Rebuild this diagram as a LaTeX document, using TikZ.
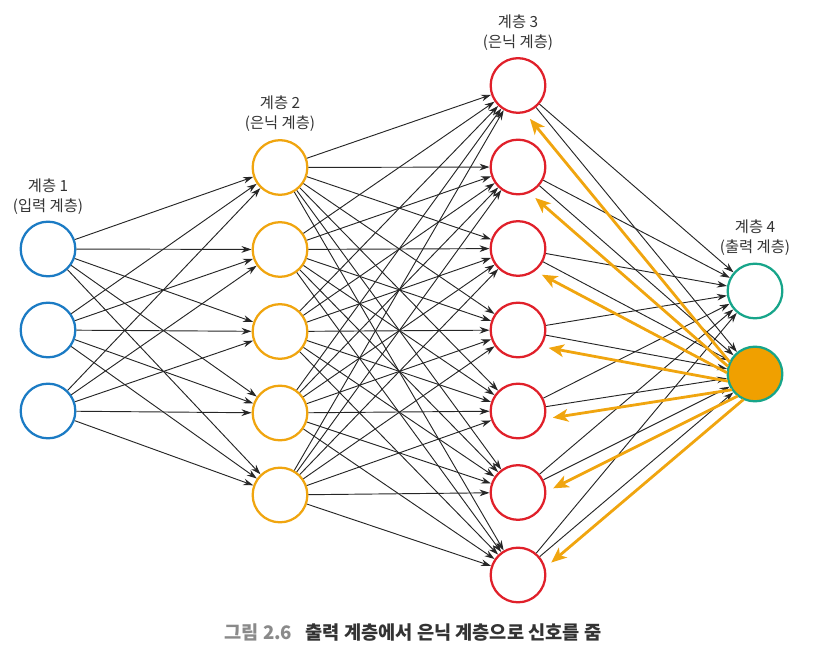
\documentclass[tikz,border=0pt]{standalone}
\usepackage{fontspec}
\setmainfont{Noto Sans CJK KR}
\usetikzlibrary{arrows.meta,calc}
\definecolor{cblue}{HTML}{1B7BC4}
\definecolor{corange}{HTML}{F0A50F}
\definecolor{cred}{HTML}{E0202A}
\definecolor{cteal}{HTML}{17A58A}
\definecolor{cfill}{HTML}{F0A000}
\definecolor{ctext}{HTML}{333333}
\definecolor{cgray}{HTML}{8A8A8A}
\begin{document}
\begin{tikzpicture}[x=0.75pt,y=-0.75pt,
  neuron/.style={circle,draw,line width=1.7pt,minimum size=41pt,inner sep=0pt,fill=white},
  lone/.style={neuron,draw=cblue},
  ltwo/.style={neuron,draw=corange},
  lthree/.style={neuron,draw=cred},
  lfour/.style={neuron,draw=cteal},
  conn/.style={draw=black!85,line width=0.7pt,-{Stealth[length=7.5pt,width=5pt]}},
  back/.style={draw=corange,line width=2.1pt,-{Stealth[length=11.5pt,width=9.5pt,inset=3pt]}},
  lab/.style={align=center,font=\fontsize{11.5}{15}\selectfont,text=ctext}
]
\useasboundingbox (0,0) rectangle (820,655);
% layer 1
\foreach \i/\y in {1/249,2/330,3/411} \node[lone] (a\i) at (48,\y) {};
% layer 2
\foreach \i/\y in {1/167.5,2/249.5,3/331.5,4/413,5/495} \node[ltwo] (b\i) at (280,\y) {};
% layer 3
\foreach \i/\y in {1/85.5,2/167,3/248.5,4/330,5/411,6/492.5,7/575} \node[lthree] (c\i) at (518,\y) {};
% layer 4
\node[lfour] (d1) at (755,291) {};
\node[lfour,fill=cfill] (d2) at (755,374) {};
% labels
\node[lab] (t1) at (48,197) {계층 1\\(입력 계층)};
\node[lab] (t2) at (280,114) {계층 2\\(은닉 계층)};
\node[lab] (t3) at (518,33) {계층 3\\(은닉 계층)};
\node[lab] (t4) at (755,238) {계층 4\\(출력 계층)};
% connections
\foreach \i in {1,2,3} \foreach \j in {1,...,5} \draw[conn] (a\i) -- (b\j);
\foreach \i in {1,...,5} \foreach \j in {1,...,7} \draw[conn] (b\i) -- (c\j);
\foreach \i in {1,...,7} \foreach \j in {1,2} \draw[conn] (c\i) -- (d\j);
% back signals
\foreach \j in {1,...,7} {
  \draw[back,shorten <=19pt,shorten >=25pt]
    ($(d2.center)!9pt!90:(c\j.center)$) -- ($(c\j.center)!9pt!-90:(d2.center)$);
}
% caption
\node[font=\fontsize{14}{17}\selectfont\bfseries] (cap) at (413,633)
  {\textcolor{cgray}{그림 2.6}\hspace{0.7em}\textcolor{ctext}{출력 계층에서 은닉 계층으로 신호를 줌}};
\end{tikzpicture}
\end{document}
